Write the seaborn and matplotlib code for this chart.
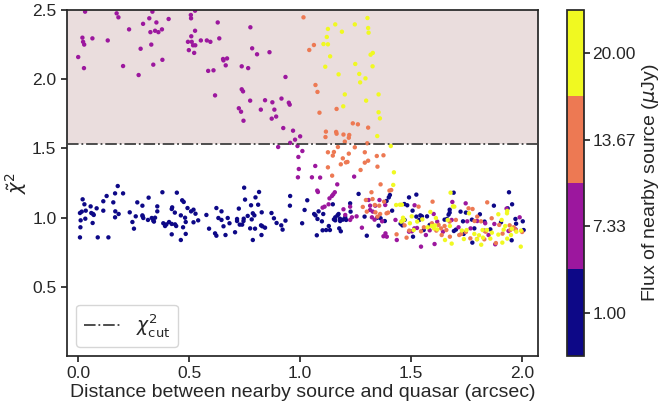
import numpy as np
import pandas as pd
import matplotlib
matplotlib.use("Agg")
import matplotlib.pyplot as plt
import seaborn as sns

# flux levels (uJy) of the nearby source
flux_levels = [1.00, 7.33, 13.67, 20.00]
chi2_cut = 1.53

# flux = 1.00
dist_1 = [0.009, 0.011, 0.012, 0.009, 0.017, 0.021, 0.029, 0.035, 0.033, 0.057,
          0.060, 0.068, 0.071, 0.066, 0.084, 0.089, 0.114, 0.114, 0.129, 0.137,
          0.159, 0.167, 0.168, 0.167, 0.183, 0.179, 0.203, 0.233, 0.245, 0.252,
          0.260, 0.267, 0.290, 0.290, 0.291, 0.294, 0.318, 0.315, 0.332, 0.339,
          0.342, 0.347, 0.357, 0.357, 0.380, 0.384, 0.392, 0.398, 0.410, 0.422,
          0.424, 0.422, 0.437, 0.436, 0.445, 0.442, 0.422, 0.463, 0.463, 0.469,
          0.476, 0.473, 0.482, 0.485, 0.485, 0.493, 0.509, 0.520, 0.520, 0.529,
          0.541, 0.578, 0.590, 0.617, 0.623, 0.623, 0.632, 0.646, 0.646, 0.655,
          0.664, 0.674, 0.682, 0.707, 0.716, 0.716, 0.724, 0.728, 0.739, 0.745,
          0.746, 0.748, 0.752, 0.764, 0.775, 0.779, 0.787, 0.782, 0.787, 0.799,
          0.797, 0.794, 0.811, 0.815, 0.824, 0.826, 0.827, 0.830, 0.842, 0.871,
          0.882, 0.894, 0.915, 0.921, 0.934, 0.954, 0.955, 1.009, 1.020, 1.032,
          1.063, 1.069, 1.078, 1.083, 1.098, 1.104, 1.101, 1.117, 1.075, 1.129,
          1.134, 1.147, 1.152, 1.158, 1.158, 1.168, 1.173, 1.179, 1.180, 1.176,
          1.183, 1.192, 1.203, 1.207, 1.225, 1.227, 1.263, 1.290, 1.300, 1.347,
          1.353, 1.362, 1.381, 1.389, 1.399, 1.404, 1.414, 1.452, 1.460, 1.470,
          1.469, 1.482, 1.490, 1.506, 1.508, 1.523, 1.523, 1.536, 1.541, 1.548,
          1.571, 1.556, 1.583, 1.650, 1.661, 1.668, 1.673, 1.673, 1.691, 1.692,
          1.701, 1.722, 1.733, 1.736, 1.746, 1.773, 1.784, 1.775, 1.809, 1.830,
          1.856, 1.872, 1.904, 1.934, 1.940, 1.954, 1.969, 1.972, 1.952, 2.002,
          2.006]
chi_1 = [0.857, 0.930, 0.980, 1.033, 1.043, 1.132, 1.096, 1.050, 0.992, 1.081,
         1.033, 1.026, 1.019, 0.961, 1.067, 0.857, 1.050, 1.118, 1.156, 0.857,
         1.110, 1.175, 1.045, 1.002, 1.026, 1.228, 1.175, 1.038, 0.968, 0.920,
         1.009, 1.110, 1.086, 1.016, 1.009, 0.997, 1.144, 0.983, 0.997, 0.978,
         0.971, 0.999, 1.045, 1.081, 1.183, 0.959, 0.939, 0.951, 0.968, 0.954,
         1.074, 1.062, 0.951, 1.036, 1.180, 0.939, 0.879, 1.016, 0.838, 1.125,
         1.113, 0.930, 0.999, 0.882, 0.968, 1.069, 1.045, 1.057, 0.966, 1.028,
         0.980, 1.019, 0.920, 0.886, 0.869, 1.069, 0.997, 1.045, 0.983, 0.937,
         0.874, 0.997, 0.959, 0.894, 0.975, 0.990, 1.065, 0.949, 0.949, 0.975,
         0.992, 1.216, 1.130, 1.012, 0.922, 1.089, 1.031, 0.987, 0.838, 1.146,
         0.920, 1.016, 1.093, 1.185, 0.944, 0.874, 1.038, 0.937, 0.927, 1.033,
         0.995, 0.961, 0.944, 0.913, 0.978, 1.086, 1.156, 0.959, 1.055, 1.125,
         1.026, 1.016, 0.990, 1.045, 0.973, 1.026, 0.908, 0.910, 0.872, 0.939,
         0.910, 1.096, 0.987, 1.002, 0.980, 1.016, 1.026, 0.992, 0.975, 0.922,
         0.901, 0.985, 1.002, 0.983, 1.103, 1.043, 1.171, 1.007, 0.869, 0.999,
         0.942, 0.995, 0.975, 1.120, 1.146, 1.163, 1.050, 0.956, 0.944, 0.983,
         1.098, 1.089, 1.146, 1.050, 0.862, 1.166, 1.007, 0.983, 1.016, 1.009,
         1.009, 0.910, 0.947, 0.985, 0.990, 1.021, 1.057, 1.036, 1.180, 0.903,
         0.913, 1.043, 0.973, 0.882, 1.036, 0.985, 0.922, 0.819, 1.024, 0.971,
         0.915, 1.086, 0.966, 1.067, 1.183, 1.096, 0.990, 0.956, 0.836, 0.973,
         0.910]

# flux = 7.33
dist_2 = [0.032, 0.174, 0.182, 0.335, 0.321, 0.293, 0.230, 0.353, 0.326, 0.347,
          0.362, 0.378, 0.408, 0.508, 0.509, 0.527, 0.527, 0.510, 0.020, 0.065,
          0.134, 0.023, 0.028, 0.001, 0.027, 0.203, 0.273, 0.282, 0.330, 0.339,
          0.380, 0.495, 0.512, 0.518, 0.528, 0.499, 0.523, 0.553, 0.580, 0.596,
          0.629, 0.636, 0.586, 0.610, 0.653, 0.655, 0.671, 0.665, 0.737, 0.766,
          0.776, 0.784, 0.806, 0.862, 0.934, 0.737, 0.743, 0.617, 0.775, 0.724,
          0.734, 0.745, 0.823, 0.842, 0.875, 0.884, 0.872, 0.892, 0.916, 0.949,
          0.953, 0.924, 0.968, 0.977, 1.000, 0.955, 0.901, 0.988, 1.010, 0.992,
          0.994, 0.990,
          1.068, 1.053, 1.090, 1.243, 1.167, 1.077, 1.080, 1.156, 1.149, 1.143,
          1.132, 1.110, 1.101, 1.128, 1.195, 1.225, 1.203, 1.225, 1.233, 1.254,
          1.278, 1.308, 1.315, 1.315, 1.327, 1.323, 1.338, 1.335, 1.357, 1.383,
          1.369, 1.384, 1.375, 1.390, 1.429, 1.435, 1.490, 1.503, 1.514, 1.515,
          1.526, 1.544, 1.566, 1.583, 1.601, 1.605, 1.617, 1.643, 1.685, 1.682,
          1.713, 1.745, 1.752, 1.767, 1.797, 1.830, 1.833, 1.848, 1.874, 1.878,
          1.929, 1.938, 1.988, 1.970]
chi_2 = [2.488, 2.476, 2.447, 2.488, 2.440, 2.400, 2.360, 2.410, 2.340, 2.350,
         2.340, 2.360, 2.435, 2.464, 2.440, 2.495, 2.350, 2.310, 2.300, 2.295,
         2.280, 2.270, 2.250, 2.160, 2.080, 2.095, 2.030, 2.220, 2.250, 2.105,
         2.140, 2.270, 2.270, 2.245, 2.245, 2.210, 2.190, 2.280, 2.280, 2.270,
         2.410, 2.295, 2.060, 2.064, 2.146, 2.136, 2.150, 2.100, 2.093, 2.080,
         2.375, 2.223, 2.180, 2.195, 2.016, 1.927, 1.912, 1.883, 1.845, 1.790,
         1.765, 1.700, 1.780, 1.848, 1.833, 1.780, 1.715, 1.730, 1.860, 1.830,
         1.816, 1.647, 1.628, 1.563, 1.587, 1.540, 1.510, 1.517, 1.481, 1.438,
         1.351, 1.291,
         1.373, 1.291, 1.289, 1.296, 1.240, 1.195, 1.185, 1.183, 1.168, 1.156,
         1.139, 1.079, 1.072, 1.096, 1.060, 1.079, 1.019, 0.983, 1.002, 1.009,
         0.927, 1.127, 1.055, 1.086, 1.043, 1.002, 1.086, 0.985, 1.127, 1.091,
         0.973, 0.886, 0.865, 0.862, 0.983, 0.838, 0.898, 0.901, 0.922, 1.089,
         0.925, 0.790, 0.874, 0.908, 1.026, 0.809, 0.971, 0.898, 1.113, 0.983,
         0.930, 1.103, 0.973, 0.922, 0.975, 0.906, 0.959, 0.874, 0.954, 0.807,
         1.065, 0.903, 1.002, 0.915]

# flux = 13.67
dist_3 = [1.015, 1.062, 1.041, 1.069, 1.078, 1.087, 1.164, 1.237, 1.260, 1.306,
          1.116, 1.162, 1.164, 1.114, 1.195, 1.221, 1.219, 1.201, 1.170, 1.246,
          1.302,
          1.125, 1.152, 1.147, 1.192, 1.219, 1.291, 1.345, 1.375, 1.183, 1.206,
          1.213, 1.306, 1.291, 1.348, 1.125, 1.272, 1.144, 1.362, 1.402, 1.410,
          1.321, 1.296, 1.326, 1.336, 1.356, 1.282, 1.300, 1.378, 1.389, 1.396,
          1.339, 1.360, 1.348,
          1.434, 1.479, 1.491, 1.533, 1.557, 1.544, 1.596, 1.593, 1.613, 1.623,
          1.634, 1.650, 1.658, 1.673, 1.701, 1.716, 1.725, 1.758, 1.746, 1.776,
          1.785, 1.797, 1.814, 1.835, 1.842, 1.829, 1.862, 1.881, 1.896, 1.911,
          1.943, 1.946, 1.961, 1.999, 1.970, 1.796, 1.766, 1.637, 1.674, 1.460,
          1.470]
chi_3 = [2.447, 2.247, 2.211, 1.958, 1.908, 1.758, 1.785, 1.681, 1.674, 1.650,
         1.621, 1.619, 1.606, 1.582, 1.600, 1.597, 1.577, 1.549, 1.510, 1.508,
         1.537,
         1.472, 1.474, 1.448, 1.428, 1.462, 1.472, 1.445, 1.450, 1.385, 1.399,
         1.402, 1.411, 1.397, 1.368, 1.363, 1.344, 1.303, 1.240, 1.195, 1.199,
         1.183, 1.127, 1.134, 1.091, 1.086, 1.077, 1.043, 1.115, 1.031, 1.036,
         1.038, 1.026, 1.007,
         0.879, 0.855, 0.906, 1.079, 0.930, 0.901, 1.115, 0.959, 0.906, 0.947,
         0.922, 0.939, 0.910, 0.971, 0.983, 0.874, 0.882, 1.067, 0.896, 1.062,
         0.975, 1.007, 0.973, 0.898, 1.110, 0.843, 0.995, 0.816, 0.947, 0.884,
         0.944, 0.910, 0.930, 0.896, 0.910, 0.845, 0.850, 0.874, 0.862, 0.975,
         0.944]

# flux = 20.00
dist_4 = [1.303, 1.158, 1.246, 1.125, 1.188, 1.306, 1.308, 1.120, 1.105, 1.125,
          1.135, 1.327, 1.317, 1.113, 1.248, 1.326, 1.173, 1.266, 1.294, 1.270,
          1.201, 1.353, 1.297, 1.194, 1.353, 1.359, 1.347, 1.408,
          1.422, 1.419, 1.432, 1.449, 1.458, 1.463, 1.467, 1.455, 1.502, 1.494,
          1.511, 1.527, 1.550, 1.574, 1.586, 1.592, 1.602, 1.607, 1.611, 1.617,
          1.652, 1.677, 1.688, 1.694, 1.664, 1.674, 1.682, 1.728, 1.737, 1.749,
          1.760, 1.784, 1.796, 1.805, 1.815, 1.821, 1.823, 1.841, 1.856, 1.863,
          1.892, 1.892, 1.907, 1.910, 1.916, 1.923, 1.932, 1.932, 1.949, 1.953,
          1.973, 1.993, 1.994, 1.931]
chi_4 = [2.442, 2.396, 2.396, 2.363, 2.343, 2.370, 2.336, 2.305, 2.254, 2.252,
         2.165, 2.190, 2.177, 2.090, 2.110, 2.093, 2.035, 2.038, 2.006, 1.977,
         1.890, 1.890, 1.845, 1.804, 1.761, 1.717, 1.589, 1.517,
         1.327, 1.236, 1.091, 1.093, 1.093, 0.999, 0.983, 0.971, 1.009, 0.959,
         0.910, 0.971, 0.987, 0.930, 1.041, 0.939, 0.922, 0.944, 0.997, 0.915,
         0.838, 1.180, 1.081, 1.079, 0.983, 0.939, 0.812, 0.906, 0.845, 0.910,
         1.031, 0.882, 0.843, 0.872, 0.804, 0.910, 0.855, 0.910, 0.848, 0.891,
         0.877, 1.024, 0.983, 0.819, 0.913, 0.939, 1.048, 0.848, 0.874, 0.920,
         0.898, 0.790, 0.906, 1.031]

df = pd.concat([
    pd.DataFrame({"dist": dist_1, "chi2": chi_1, "flux": flux_levels[0]}),
    pd.DataFrame({"dist": dist_2, "chi2": chi_2, "flux": flux_levels[1]}),
    pd.DataFrame({"dist": dist_3, "chi2": chi_3, "flux": flux_levels[2]}),
    pd.DataFrame({"dist": dist_4, "chi2": chi_4, "flux": flux_levels[3]}),
], ignore_index=True)

sns.set_theme(style="ticks")
plt.rcParams["font.family"] = ["Liberation Sans", "DejaVu Sans"]
plt.rcParams["mathtext.fontset"] = "dejavusans"

# discrete plasma colormap, one colour per flux level
step = (flux_levels[-1] - flux_levels[0]) / (len(flux_levels) - 1)
vmin = flux_levels[0] - step / 2
vmax = flux_levels[-1] + step / 2
cmap = plt.get_cmap("plasma", len(flux_levels))

fig = plt.figure(figsize=(6.62, 4.08), dpi=100)
ax = fig.add_axes([0.101, 0.1275, 0.7115, 0.848])
cax = fig.add_axes([0.8565, 0.1275, 0.0257, 0.848])

ax.axhspan(chi2_cut, 2.5, color="rosybrown", alpha=0.3, lw=0, zorder=0)
sns.scatterplot(data=df, x="dist", y="chi2", hue="flux", palette=cmap,
                hue_norm=(vmin, vmax), s=10, linewidth=0, legend=False, ax=ax,
                zorder=2)
ax.axhline(chi2_cut, color="0.25", ls="-.", lw=1.3, zorder=3,
           label=r"$\chi^2_{\rm cut}$")

ax.set_xlim(-0.05, 2.07)
ax.set_ylim(0.0, 2.5)
ax.set_xticks([0.0, 0.5, 1.0, 1.5, 2.0])
ax.set_yticks([0.5, 1.0, 1.5, 2.0, 2.5])
ax.tick_params(labelsize=12.5, length=4, pad=3.5)
ax.set_xlabel("Distance between nearby source and quasar (arcsec)",
              fontsize=14, labelpad=2)
ax.set_ylabel(r"$\tilde{\chi}^2$", fontsize=14, labelpad=2)
ax.legend(loc="lower left", fontsize=13.5, handlelength=2.0)

sm = plt.cm.ScalarMappable(cmap=cmap, norm=plt.Normalize(vmin, vmax))
cb = fig.colorbar(sm, cax=cax, ticks=flux_levels)
cb.ax.set_yticklabels([f"{v:.2f}" for v in flux_levels])
cb.ax.tick_params(labelsize=12.5, length=4, pad=2)
cb.set_label(r"Flux of nearby source ($\mu$Jy)", fontsize=14, labelpad=3)

fig.savefig("out.png", dpi=100)
